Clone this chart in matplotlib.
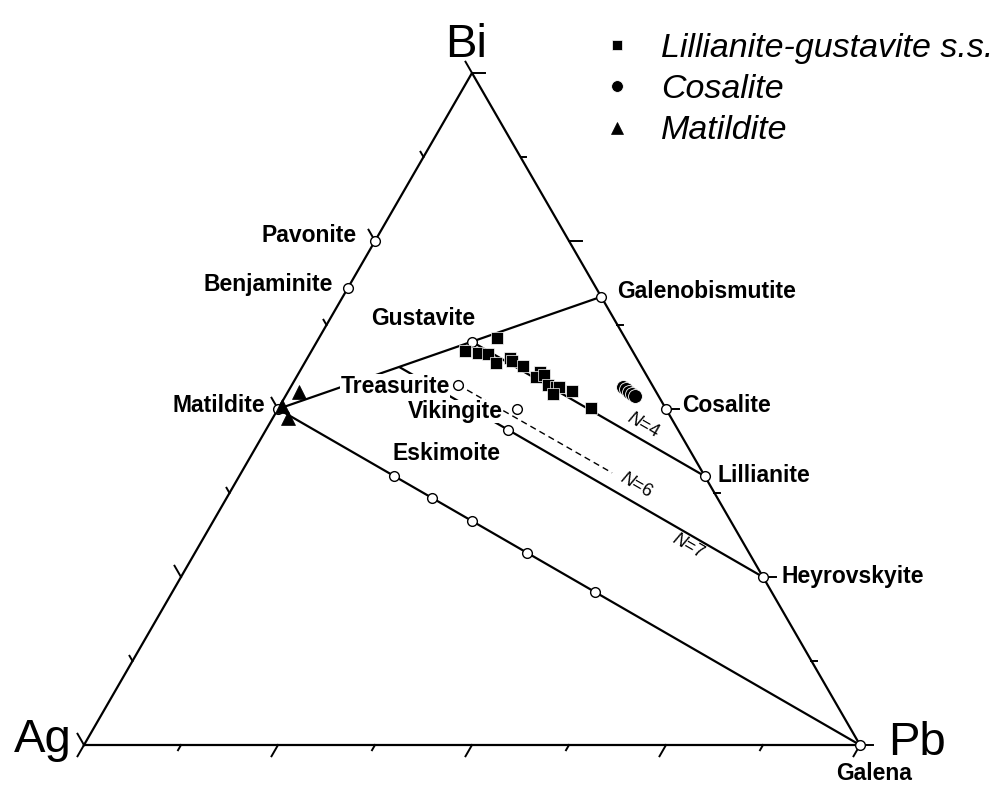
"""
Ag-Pb-Bi ternary diagram: lillianite-gustavite s.s., cosalite and matildite
analyses plotted against the reference phases of the system.
"""
import numpy as np
import matplotlib
matplotlib.use("Agg")
import matplotlib.pyplot as plt

plt.rcParams["font.family"] = ["Liberation Sans", "DejaVu Sans"]
plt.rcParams["mathtext.fontset"] = "custom"
plt.rcParams["mathtext.it"] = "Liberation Sans:italic"
plt.rcParams["mathtext.rm"] = "Liberation Sans"

# ----------------------------------------------------------------------
# Data - atomic fractions (Ag, Pb, Bi)
# ----------------------------------------------------------------------
phase_names = ["Pavonite", "Benjaminite", "Matildite", "Gustavite",
               "Galenobismutite", "Treasurite", "Vikingite", "Eskimoite",
               "Cosalite", "Lillianite", "Heyrovskyite", "Galena"]
phase_ag = [0.250, 0.320, 0.500, 0.200, 0.000, 0.250, 0.192, 0.219,
            0.000, 0.000, 0.000, 0.000]
phase_pb = [0.000, 0.000, 0.000, 0.200, 0.333, 0.214, 0.308, 0.312,
            0.500, 0.600, 0.750, 1.000]
phase_bi = [0.750, 0.680, 0.500, 0.600, 0.667, 0.536, 0.500, 0.469,
            0.500, 0.400, 0.250, 0.000]

# unlabelled phases on the matildite - galena join
join_ag = [0.400, 0.368, 0.333, 0.286, 0.227]
join_pb = [0.200, 0.265, 0.334, 0.428, 0.545]
join_bi = [0.400, 0.367, 0.333, 0.286, 0.228]

# analyses
lg_ag = [0.165, 0.215, 0.200, 0.188, 0.185, 0.163, 0.162, 0.152, 0.135,
         0.144, 0.132, 0.134, 0.126, 0.122, 0.108, 0.134, 0.096]
lg_pb = [0.230, 0.198, 0.216, 0.230, 0.247, 0.261, 0.266, 0.284, 0.310,
         0.309, 0.318, 0.331, 0.342, 0.345, 0.365, 0.343, 0.402]
lg_bi = [0.605, 0.587, 0.584, 0.582, 0.568, 0.576, 0.572, 0.564, 0.555,
         0.547, 0.550, 0.535, 0.532, 0.533, 0.527, 0.523, 0.502]

cos_ag = [0.040, 0.037, 0.035, 0.032, 0.030]
cos_pb = [0.428, 0.434, 0.439, 0.445, 0.451]
cos_bi = [0.532, 0.529, 0.526, 0.523, 0.519]

mat_ag = [0.460, 0.492, 0.494]
mat_pb = [0.014, 0.003, 0.020]
mat_bi = [0.526, 0.505, 0.486]

# end points of the joins (Ag, Pb, Bi)
n7_top = (0.3125, 0.125, 0.5625)
n6_end = (0.117, 0.478, 0.405)

# ----------------------------------------------------------------------
# Helpers
# ----------------------------------------------------------------------
H = np.sqrt(3) / 2


def tern(ag, pb, bi):
    """Ag at (0,0), Pb at (1,0), Bi at the apex."""
    ag, pb, bi = (np.asarray(v, dtype=float) for v in (ag, pb, bi))
    tot = ag + pb + bi
    return (pb + bi / 2) / tot, bi * H / tot


def comp(name):
    i = phase_names.index(name)
    return phase_ag[i], phase_pb[i], phase_bi[i]


def join(ax, a, b, **kw):
    x, y = tern(*zip(a, b))
    ax.plot(x, y, color="black", solid_capstyle="butt", **kw)


def along(a, b, t):
    return tuple(np.asarray(a) + t * (np.asarray(b) - np.asarray(a)))


fig = plt.figure(figsize=(10.08, 7.87), dpi=100)
ax = fig.add_axes([0, 0, 1, 1])
ax.set_xlim(-84 / 776, 924 / 776)
ax.set_ylim(-42 / 776, 745 / 776)
ax.axis("off")

# --- triangle frame and ticks ---
ax.plot([0, 1, 0.5, 0], [0, 0, H, 0], color="black", lw=1.6, zorder=2)
for t in np.arange(0, 1.0001, 0.125):
    ln = 13 / 776 if abs(t * 4 - round(t * 4)) < 1e-9 else 6 / 776
    for (px, py), (dx, dy) in [((t, 0), (-0.5, -H)),
                               ((0.5 * t, H * t), (-0.5, H)),
                               ((1 - 0.5 * t, H * t), (1, 0))]:
        ax.plot([px, px + dx * ln], [py, py + dy * ln], color="black",
                lw=1.4, zorder=2)

# --- joins ---
join(ax, comp("Matildite"), comp("Galenobismutite"), lw=1.6, zorder=1)
join(ax, comp("Matildite"), comp("Galena"), lw=1.6, zorder=1)
join(ax, comp("Gustavite"), comp("Lillianite"), lw=1.6, zorder=1)
join(ax, n7_top, comp("Heyrovskyite"), lw=1.6, zorder=1)
join(ax, comp("Treasurite"), n6_end, lw=1.0, ls=(0, (4.5, 3)), zorder=1)

# N labels, placed relative to a point on each join
for text, a, b, t, off in [
        (r"$N$=4", comp("Gustavite"), comp("Lillianite"), 0.735, (0, 15)),
        (r"$N$=6", comp("Treasurite"), (0.0, 0.714, 0.286), 0.612, (0, 3)),
        (r"$N$=7", n7_top, comp("Heyrovskyite"), 0.794, (0, -12))]:
    x, y = tern(*along(a, b, t))
    ax.annotate(text, (x, y), xytext=off, textcoords="offset pixels",
                rotation=-30, rotation_mode="anchor", ha="center",
                va="center", fontsize=13, zorder=3)

# --- phase labels ---
label_style = {
    "Pavonite": ("right", (-18, -1)),
    "Benjaminite": ("right", (-15, -3)),
    "Matildite": ("right", (-13, -3)),
    "Gustavite": ("center", (-49, 17)),
    "Galenobismutite": ("left", (16, -1)),
    "Treasurite": ("right", (-8, -8)),
    "Vikingite": ("right", (-14, -9)),
    "Eskimoite": ("right", (-8, -30)),
    "Cosalite": ("left", (16, -3)),
    "Lillianite": ("left", (13, -6)),
    "Heyrovskyite": ("left", (19, -6)),
    "Galena": ("center", (14, -35)),
}
px, py = tern(phase_ag, phase_pb, phase_bi)
for name, x, y in zip(phase_names, px, py):
    ha, off = label_style[name]
    ax.annotate(name, (x, y), xytext=off, textcoords="offset pixels",
                ha=ha, va="baseline", fontsize=16.5, fontweight="bold",
                bbox=dict(facecolor="white", edgecolor="none", pad=0.3),
                zorder=4)

# vertex labels
for text, xy, ha, off in [("Ag", (0, 0), "right", (-12, -7)),
                          ("Pb", (1, 0), "left", (28, -10)),
                          ("Bi", (0.5, H), "center", (-6, 16))]:
    ax.annotate(text, xy, xytext=off, textcoords="offset pixels", ha=ha,
                va="baseline", fontsize=34, zorder=4)

# --- reference phases (open circles) ---
jx, jy = tern(join_ag, join_pb, join_bi)
ax.plot(np.concatenate([px, jx]), np.concatenate([py, jy]), ls="none",
        marker="o", ms=7, mfc="white", mec="black", mew=1.0, zorder=5)

# --- analyses ---
x, y = tern(lg_ag, lg_pb, lg_bi)
h_lg, = ax.plot(x, y, ls="none", marker="s", ms=8.5, mfc="black",
                mec="white", mew=0.5, zorder=6)
x, y = tern(cos_ag, cos_pb, cos_bi)
h_cos, = ax.plot(x, y, ls="none", marker="o", ms=10, mfc="black",
                 mec="white", mew=0.6, zorder=6)
x, y = tern(mat_ag, mat_pb, mat_bi)
h_mat, = ax.plot(x, y, ls="none", marker="^", ms=9.5, mfc="black",
                 mec="black", mew=0.5, zorder=6)

ax.legend([h_lg, h_cos, h_mat],
          ["Lillianite-gustavite s.s.", "Cosalite", "Matildite"],
          loc="upper left", bbox_to_anchor=(607 / 1008, 1 - 33 / 787),
          bbox_transform=fig.transFigure, frameon=False, borderpad=0,
          borderaxespad=0, handlelength=0.6, handletextpad=1.0,
          labelspacing=0.3, markerscale=0.85,
          prop=dict(family="Liberation Sans", style="italic", size=24.5))

fig.savefig("out.png", dpi=100)
plt.close(fig)
